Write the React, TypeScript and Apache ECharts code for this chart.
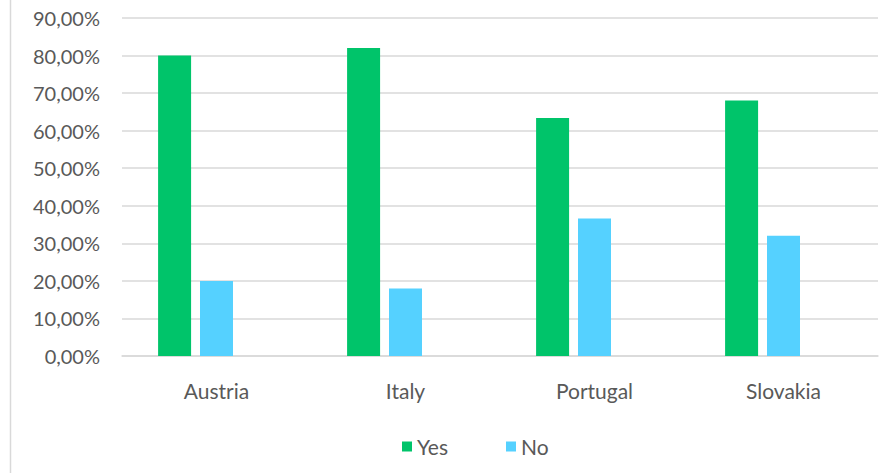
import React, { useEffect, useRef } from "react";
import * as echarts from "echarts";

const categories = ["Austria", "Italy", "Portugal", "Slovakia"];
const yesValues = [80.0, 82.0, 63.4, 68.0];
const noValues = [20.0, 18.0, 36.6, 32.0];
const emptyValues = ["-", "-", "-", "-"];

export default function App() {
  const ref = useRef<HTMLDivElement>(null);
  useEffect(() => {
    if (!ref.current) return;
    const chart = echarts.init(ref.current, null, { renderer: "svg" });
    const font = "Lato, 'Open Sans', sans-serif";
    chart.setOption({
      animation: false,
      backgroundColor: "#ffffff",
      textStyle: { fontFamily: font },
      grid: { left: 122, right: 15, top: 18, bottom: 117, containLabel: false },
      legend: {
        data: ["Yes", "No"],
        top: 431,
        left: 397,
        itemWidth: 10,
        itemHeight: 10,
        itemGap: 58,
        icon: "rect",
        textStyle: { fontSize: 21, color: "#595959", fontFamily: font },
      },
      xAxis: {
        type: "category",
        data: categories,
        axisLine: { lineStyle: { color: "#d9d9d9", width: 1.5 } },
        axisTick: { show: false },
        axisLabel: { fontSize: 21, color: "#595959", margin: 24, fontFamily: font },
      },
      yAxis: {
        type: "value",
        min: 0,
        max: 90,
        interval: 10,
        axisLine: { show: false },
        axisTick: { show: false },
        splitLine: { lineStyle: { color: "#d9d9d9", width: 1.5 } },
        axisLabel: {
          fontSize: 20,
          color: "#595959",
          margin: 22,
          fontFamily: font,
          formatter: (v: number) => v.toFixed(2).replace(".", ",") + "%",
        },
      },
      series: [
        { name: "Yes", type: "bar", data: yesValues, barWidth: 33, barGap: "27%", itemStyle: { color: "#00c46a" } },
        { name: "No", type: "bar", data: noValues, barWidth: 33, barGap: "27%", itemStyle: { color: "#55d1ff" } },
        { name: "Blank", type: "bar", data: emptyValues, barWidth: 33, barGap: "27%", itemStyle: { color: "#cccccc" } },
      ],
      graphic: [
        {
          type: "line",
          shape: { x1: 10.5, y1: 0, x2: 10.5, y2: 473 },
          style: { stroke: "#d9d9d9", lineWidth: 1.5 },
        },
      ],
    });
    return () => chart.dispose();
  }, []);
  return (
    <div
      ref={ref}
      style={{ position: "absolute", left: 0, top: 0, width: 893, height: 473 }}
    />
  );
}
